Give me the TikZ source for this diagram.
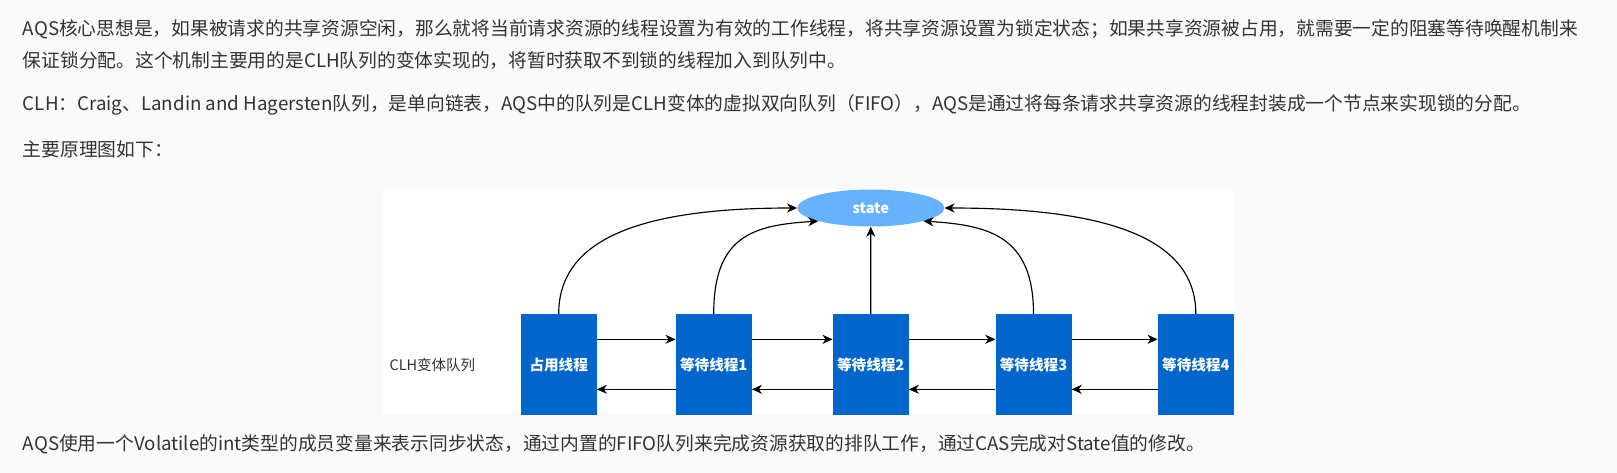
\documentclass[tikz,border=0pt]{standalone}
\usepackage{fontspec}
\setmainfont{Noto Sans CJK SC}
\usetikzlibrary{arrows.meta,shapes.geometric}
\definecolor{pagebg}{HTML}{FAFAFA}
\definecolor{txt}{HTML}{333333}
\definecolor{boxblue}{HTML}{0066CC}
\definecolor{stateblue}{HTML}{66B2FF}
\begin{document}
\begin{tikzpicture}[x=1pt,y=-1pt,
  para/.style={anchor=base west, inner sep=0pt, text=txt, font=\fontsize{18.75}{20}\selectfont},
  qbox/.style={rectangle, fill=boxblue, draw=none, minimum width=76pt, minimum height=101pt, inner sep=0pt, text=white, font=\bfseries\fontsize{14.6}{16}\selectfont},
  statenode/.style={ellipse, fill=stateblue, draw=none, minimum width=147pt, minimum height=37pt, inner sep=0pt, text=white, font=\bfseries\fontsize{14.5}{16}\selectfont},
  lbl/.style={anchor=west, inner sep=0pt, text=txt, font=\fontsize{14.5}{16}\selectfont},
  arr/.style={line width=1.15pt, -{Stealth[length=10pt,width=9pt,inset=3pt]}},
]
\fill[pagebg] (0,0) rectangle (1617,473);
\useasboundingbox (0,0) rectangle (1617,473);
\fill[white] (383,189) rectangle (1234,415);

\node[para] (l1) at (22.7,35.6) {AQS核心思想是，如果被请求的共享资源空闲，那么就将当前请求资源的线程设置为有效的工作线程，将共享资源设置为锁定状态；如果共享资源被占用，就需要一定的阻塞等待唤醒机制来};
\node[para] (l2) at (22.7,67.1) {保证锁分配。这个机制主要用的是CLH队列的变体实现的，将暂时获取不到锁的线程加入到队列中。};
\node[para] (l3) at (22.7,111) {CLH：Craig、Landin and Hagersten队列，是单向链表，AQS中的队列是CLH变体的虚拟双向队列（FIFO），AQS是通过将每条请求共享资源的线程封装成一个节点来实现锁的分配。};
\node[para] (l4) at (22.7,156.5) {主要原理图如下：};
\node[para] (l5) at (22.7,450) {AQS使用一个Volatile的int类型的成员变量来表示同步状态，通过内置的FIFO队列来完成资源获取的排队工作，通过CAS完成对State值的修改。};

\node[statenode] (st) at (870.8,208) {state};
\node[lbl] (clh) at (389.3,365) {CLH变体队列};

\node[qbox] (b1) at (558.7,364.5) {占用线程};
\node[qbox] (b2) at (713.7,364.5) {等待线程1};
\node[qbox] (b3) at (870.7,364.5) {等待线程2};
\node[qbox] (b4) at (1033.5,364.5) {等待线程3};
\node[qbox] (b5) at (1195.8,364.5) {等待线程4};

\coordinate (up) at (0,339.3);
\coordinate (lo) at (0,389.3);
\foreach \a/\b in {b1/b2,b2/b3,b3/b4,b4/b5} {
  \draw[arr] (\a.east |- up) -- (\b.west |- up);
  \draw[arr] (\b.west |- lo) -- (\a.east |- lo);
}

\draw[arr] (b1.north) .. controls +(0,-79) and +(-147,0) .. (st.west);
\draw[arr] (b2.north) .. controls +(0,-78) and +(-65,4) .. (st.194);
\draw[arr] (b3.north) -- (st.south);
\draw[arr] (b4.north) .. controls +(0,-78) and +(65,4) .. (st.346);
\draw[arr] (b5.north) .. controls +(0,-79) and +(155,0) .. (st.east);
\end{tikzpicture}
\end{document}
